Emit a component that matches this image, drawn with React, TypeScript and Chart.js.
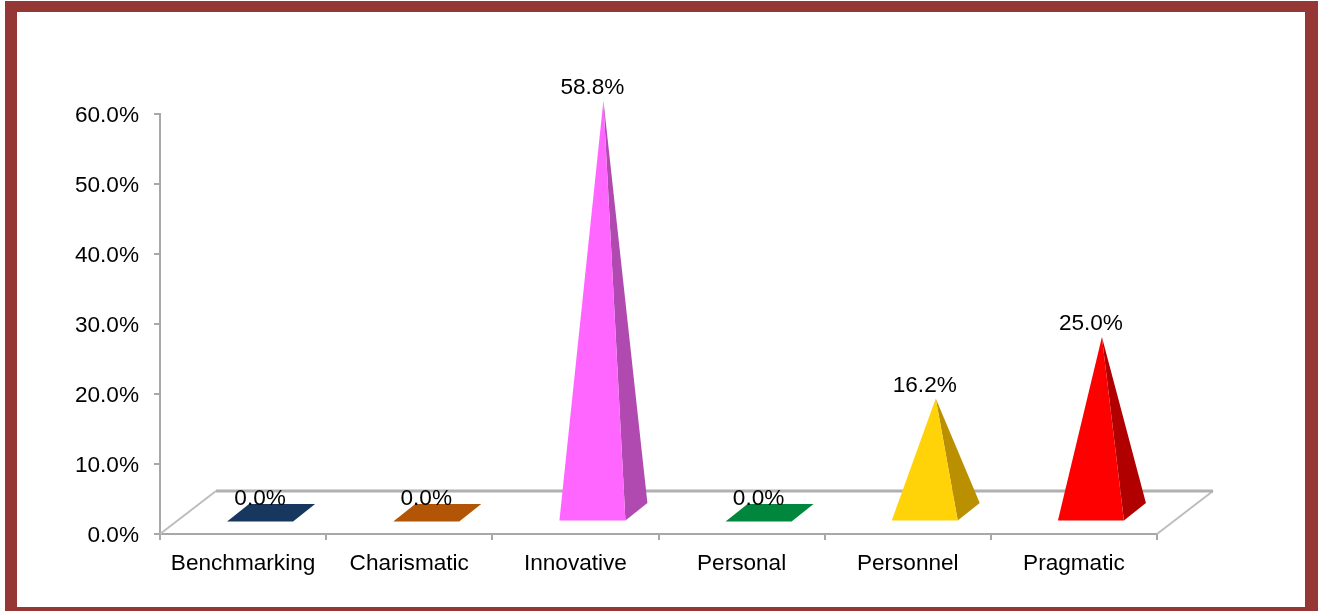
import React, { useEffect, useRef } from "react";
import { Chart, registerables, BarController, BarElement } from "chart.js";

const categories = ["Benchmarking", "Charismatic", "Innovative", "Personal", "Personnel", "Pragmatic"];
const shares = [0, 0, 58.8, 0, 16.2, 25];
const frontColors = ["#17375e", "#b35506", "#ff66ff", "#00863d", "#ffd308", "#ff0000"];
const sideColors = ["#17375e", "#b35506", "#b04ab0", "#00863d", "#bb9000", "#b00000"];
const yTicks = [0, 10, 20, 30, 40, 50, 60];

const FONT = '"Liberation Sans", Arial, sans-serif';
const FONT_SIZE = 22.6;
const AXIS_GREY = "#a8a8a8";
const FLOOR_DX = 56;
const FLOOR_DY = 43;
// Placement of a pyramid's base relative to its category slot on the floor.
const BASE_SHIFT_X = 17;
const BASE_LIFT = 12.5;
const HALF_WIDTH = 33;
const DEPTH_DX = 22;
const DEPTH_DY = 17.5;
const APEX_LIFT = 22;

class PyramidElement extends BarElement {
  static id = "pyramid";
  static defaults = BarElement.defaults;
  static defaultRoutes = BarElement.defaultRoutes;

  draw(ctx: CanvasRenderingContext2D) {
    const { x, y, base } = this as any;
    const { backgroundColor, borderColor } = (this as any).options;
    const left = x + BASE_SHIFT_X - HALF_WIDTH;
    const right = x + BASE_SHIFT_X + HALF_WIDTH;
    const front = base - BASE_LIFT;
    const height = base - y;
    const fill = (pts: number[][], color: string) => {
      ctx.fillStyle = color;
      ctx.beginPath();
      pts.forEach(([px, py], i) => (i ? ctx.lineTo(px, py) : ctx.moveTo(px, py)));
      ctx.closePath();
      ctx.fill();
    };
    ctx.save();
    if (height < 1) {
      // A zero value collapses to the flat square footprint.
      fill(
        [
          [left, front],
          [right, front],
          [right + DEPTH_DX, front - DEPTH_DY],
          [left + DEPTH_DX, front - DEPTH_DY],
        ],
        backgroundColor
      );
    } else {
      const apex = [x + BASE_SHIFT_X + 11, base - APEX_LIFT - height];
      fill([[right, front], [right + DEPTH_DX, front - DEPTH_DY], apex], borderColor);
      fill([[left, front], [right, front], apex], backgroundColor);
    }
    ctx.restore();
  }
}

class PyramidController extends BarController {
  static id = "pyramid";
  static defaults = { ...BarController.defaults, dataElementType: "pyramid" };
  static overrides = BarController.overrides;
}

Chart.register(...registerables, PyramidElement, PyramidController);

// Floor of the 3D plot, behind the marks.
const floorPlugin = {
  id: "floor",
  beforeDatasetsDraw(chart: any) {
    const { ctx, chartArea: a } = chart;
    ctx.save();
    ctx.lineWidth = 2;
    ctx.strokeStyle = "#bdbdbd";
    ctx.beginPath();
    ctx.moveTo(a.left, a.bottom);
    ctx.lineTo(a.left + FLOOR_DX, a.bottom - FLOOR_DY);
    ctx.moveTo(a.right, a.bottom);
    ctx.lineTo(a.right + FLOOR_DX, a.bottom - FLOOR_DY);
    ctx.stroke();
    ctx.lineWidth = 3;
    ctx.strokeStyle = "#b0b0b0";
    ctx.beginPath();
    ctx.moveTo(a.left + FLOOR_DX, a.bottom - FLOOR_DY);
    ctx.lineTo(a.right + FLOOR_DX, a.bottom - FLOOR_DY);
    ctx.stroke();
    ctx.restore();
  },
};

// Value labels above each apex.
const valueLabelPlugin = {
  id: "valueLabels",
  afterDatasetsDraw(chart: any) {
    const { ctx } = chart;
    const meta = chart.getDatasetMeta(0);
    ctx.save();
    ctx.font = `${FONT_SIZE}px ${FONT}`;
    ctx.fillStyle = "#000";
    ctx.textAlign = "center";
    ctx.textBaseline = "middle";
    meta.data.forEach((el: any, i: number) => {
      ctx.fillText(`${shares[i].toFixed(1)}%`, el.x + BASE_SHIFT_X, el.y - 35);
    });
    ctx.restore();
  },
};

// Moves the value-axis labels slightly down from their tick marks.
const nudgeLabels = (scale: any, dy: number) => {
  const compute = scale._computeLabelItems;
  scale._computeLabelItems = (area: any) =>
    compute.call(scale, area).map((item: any) => ({
      ...item,
      options: { ...item.options, translation: [item.options.translation[0], item.options.translation[1] + dy] },
    }));
};

export default function App() {
  const ref = useRef<HTMLCanvasElement>(null);

  useEffect(() => {
    const chart = new Chart(ref.current!, {
      type: "pyramid" as any,
      data: {
        labels: categories,
        datasets: [
          {
            data: shares,
            backgroundColor: frontColors,
            borderColor: sideColors,
            borderWidth: 0,
            clip: false,
          } as any,
        ],
      },
      options: {
        responsive: false,
        animation: false,
        layout: { padding: { left: 10, top: 114, right: 164, bottom: 27 } },
        plugins: { legend: { display: false }, tooltip: { enabled: false } },
        scales: {
          x: {
            type: "category",
            afterFit: (s: any) => {
              s.height = 50;
            },
            border: { color: AXIS_GREY, width: 2 },
            grid: { drawOnChartArea: false, color: AXIS_GREY, tickLength: 6, lineWidth: 2 },
            ticks: { color: "#000", font: { family: FONT, size: FONT_SIZE }, padding: 10, maxRotation: 0, autoSkip: false },
          },
          y: {
            type: "linear",
            min: yTicks[0],
            max: yTicks[yTicks.length - 1],
            afterFit: (s: any) => {
              s.width = 150;
              if (!s._nudged) {
                nudgeLabels(s, 2);
                s._nudged = true;
              }
            },
            afterBuildTicks: (s: any) => {
              s.ticks = yTicks.map((value) => ({ value }));
            },
            border: { color: AXIS_GREY, width: 2 },
            grid: { drawOnChartArea: false, color: AXIS_GREY, tickLength: 6, lineWidth: 2 },
            ticks: {
              color: "#000",
              font: { family: FONT, size: FONT_SIZE },
              padding: 15,
              callback: (v: any) => `${Number(v).toFixed(1)}%`,
            },
          },
        },
      } as any,
      plugins: [floorPlugin, valueLabelPlugin],
    });
    return () => chart.destroy();
  }, []);

  return (
    <div style={{ position: "fixed", inset: 0, width: 1321, height: 611, overflow: "hidden", background: "#fff" }}>
      <div
        style={{
          position: "absolute",
          left: 5,
          top: 1,
          width: 1288,
          height: 595,
          borderStyle: "solid",
          borderColor: "#953735",
          borderWidth: "11px 13px 12px 12px",
          boxSizing: "content-box",
        }}
      />
      <canvas ref={ref} width={1321} height={611} style={{ position: "absolute", left: 0, top: 0 }} />
    </div>
  );
}
